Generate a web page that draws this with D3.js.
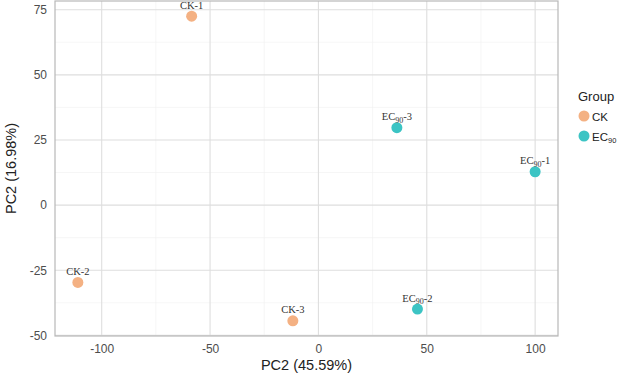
<!DOCTYPE html>
<html>
<head>
<meta charset="utf-8">
<script src="https://cdn.jsdelivr.net/npm/d3@7"></script>
<style>
  body { margin: 0; background: #fff; }
  text { font-family: "Liberation Sans", Arial, sans-serif; }
</style>
</head>
<body>
<div id="chart"></div>
<script>
// sample scores
const samples = ["CK-1", "CK-2", "CK-3", "EC90-1", "EC90-2", "EC90-3"];
const groups = ["CK", "CK", "CK", "EC90", "EC90", "EC90"];
const pc1 = [-58.5, -111, -11.8, 100, 45.7, 36.2];
const pc2 = [72.5, -29.7, -44.4, 12.8, -39.9, 29.7];

const groupKeys = ["CK", "EC90"];
const groupColors = ["#f4b183", "#3cc4c4"];
const xTicks = [-100, -50, 0, 50, 100];
const yTicks = [-50, -25, 0, 25, 50, 75];

const W = 617, H = 374;
const margin = {top: 1, right: 59, bottom: 38, left: 55};
const width = W - margin.left - margin.right,
      height = H - margin.top - margin.bottom;

const svg = d3.select("#chart").append("svg")
    .attr("width", W).attr("height", H);
const g = svg.append("g")
    .attr("transform", `translate(${margin.left},${margin.top})`);

// ggplot style 5% expansion
const xr = d3.extent(pc1), yr = d3.extent(pc2);
const xe = (xr[1] - xr[0]) * 0.05, ye = (yr[1] - yr[0]) * 0.05;
const x = d3.scaleLinear().domain([xr[0] - xe, xr[1] + xe]).range([0, width]);
const y = d3.scaleLinear().domain([yr[0] - ye, yr[1] + ye]).range([height, 0]);

const color = d3.scaleOrdinal().domain(groupKeys).range(groupColors);

// minor grid
const minorX = xTicks.slice(0, -1).map((t, i) => (t + xTicks[i + 1]) / 2)
  .concat([xTicks[0] - 25, xTicks[xTicks.length - 1] + 25])
  .filter(v => v > x.domain()[0] && v < x.domain()[1]);
const minorY = yTicks.slice(0, -1).map((t, i) => (t + yTicks[i + 1]) / 2)
  .concat([yTicks[0] - 12.5, yTicks[yTicks.length - 1] + 12.5])
  .filter(v => v > y.domain()[0] && v < y.domain()[1]);

g.selectAll(".minx").data(minorX).join("line")
  .attr("x1", d => x(d)).attr("x2", d => x(d))
  .attr("y1", 0).attr("y2", height)
  .attr("stroke", "#f0f0f0").attr("stroke-width", 0.6);
g.selectAll(".miny").data(minorY).join("line")
  .attr("y1", d => y(d)).attr("y2", d => y(d))
  .attr("x1", 0).attr("x2", width)
  .attr("stroke", "#f0f0f0").attr("stroke-width", 0.6);

// major grid
g.selectAll(".majx").data(xTicks).join("line")
  .attr("x1", d => x(d)).attr("x2", d => x(d))
  .attr("y1", 0).attr("y2", height)
  .attr("stroke", "#dedede").attr("stroke-width", 1.1);
g.selectAll(".majy").data(yTicks).join("line")
  .attr("y1", d => y(d)).attr("y2", d => y(d))
  .attr("x1", 0).attr("x2", width)
  .attr("stroke", "#dedede").attr("stroke-width", 1.1);

// axes labels (plain hyphen minus like the original)
const fmt = d => String(d);
const xAxis = g.append("g")
  .attr("transform", `translate(0,${height})`)
  .call(d3.axisBottom(x).tickValues(xTicks).tickFormat(fmt).tickSize(0).tickPadding(8));
const yAxis = g.append("g")
  .call(d3.axisLeft(y).tickValues(yTicks).tickFormat(fmt).tickSize(0).tickPadding(8));
[xAxis, yAxis].forEach(a => {
  a.select(".domain").remove();
  a.selectAll("text").style("font-size", "12px").attr("fill", "#4d4d4d")
    .style("font-family", "'Liberation Sans', Arial, sans-serif");
});

// panel border
g.append("rect")
  .attr("x", 0).attr("y", 0).attr("width", width).attr("height", height)
  .attr("fill", "none").attr("stroke", "#b8b8b8").attr("stroke-width", 1.2);

// points
g.selectAll(".pt").data(samples).join("circle")
  .attr("cx", (d, i) => x(pc1[i]))
  .attr("cy", (d, i) => y(pc2[i]))
  .attr("r", 5.5)
  .attr("fill", (d, i) => color(groups[i]));

// sample labels, EC90 with subscript
function labelParts(t, sel) {
  if (t.startsWith("EC90")) {
    sel.append("tspan").text("EC");
    sel.append("tspan").text("90").attr("font-size", "8px").attr("dy", 2.5);
    sel.append("tspan").text(t.slice(4)).attr("dy", -2.5);
  } else {
    sel.text(t);
  }
}
g.selectAll(".lab").data(samples).join("text")
  .attr("x", (d, i) => x(pc1[i]))
  .attr("y", (d, i) => y(pc2[i]) - 7.5)
  .attr("text-anchor", "middle")
  .style("font-family", "'Liberation Serif', 'Times New Roman', serif")
  .style("font-size", "10.5px")
  .attr("fill", "#333")
  .each(function(d) { labelParts(d, d3.select(this)); });

// axis titles
svg.append("text")
  .attr("x", margin.left + width / 2).attr("y", 370)
  .attr("text-anchor", "middle")
  .style("font-size", "14.5px").attr("fill", "#222")
  .text("PC2 (45.59%)");
svg.append("text")
  .attr("transform", `translate(16,${margin.top + height / 2}) rotate(-90)`)
  .attr("text-anchor", "middle")
  .style("font-size", "14.5px").attr("fill", "#222")
  .text("PC2 (16.98%)");

// legend
const leg = svg.append("g").attr("transform", "translate(578,0)");
leg.append("text").attr("x", 0).attr("y", 101)
  .style("font-size", "13px").attr("fill", "#222").text("Group");
const items = leg.selectAll(".li").data(groupKeys).join("g")
  .attr("transform", (d, i) => `translate(0,${116 + i * 20})`);
items.append("circle").attr("cx", 6).attr("cy", 0).attr("r", 5.5)
  .attr("fill", d => color(d));
items.append("text").attr("x", 14).attr("y", 4.5)
  .style("font-size", "11.5px").attr("fill", "#222")
  .each(function(d) {
    const t = d3.select(this);
    if (d === "EC90") {
      t.append("tspan").text("EC");
      t.append("tspan").text("90").attr("font-size", "7.5px").attr("dy", 2.5);
    } else t.text(d);
  });
</script>
</body>
</html>
